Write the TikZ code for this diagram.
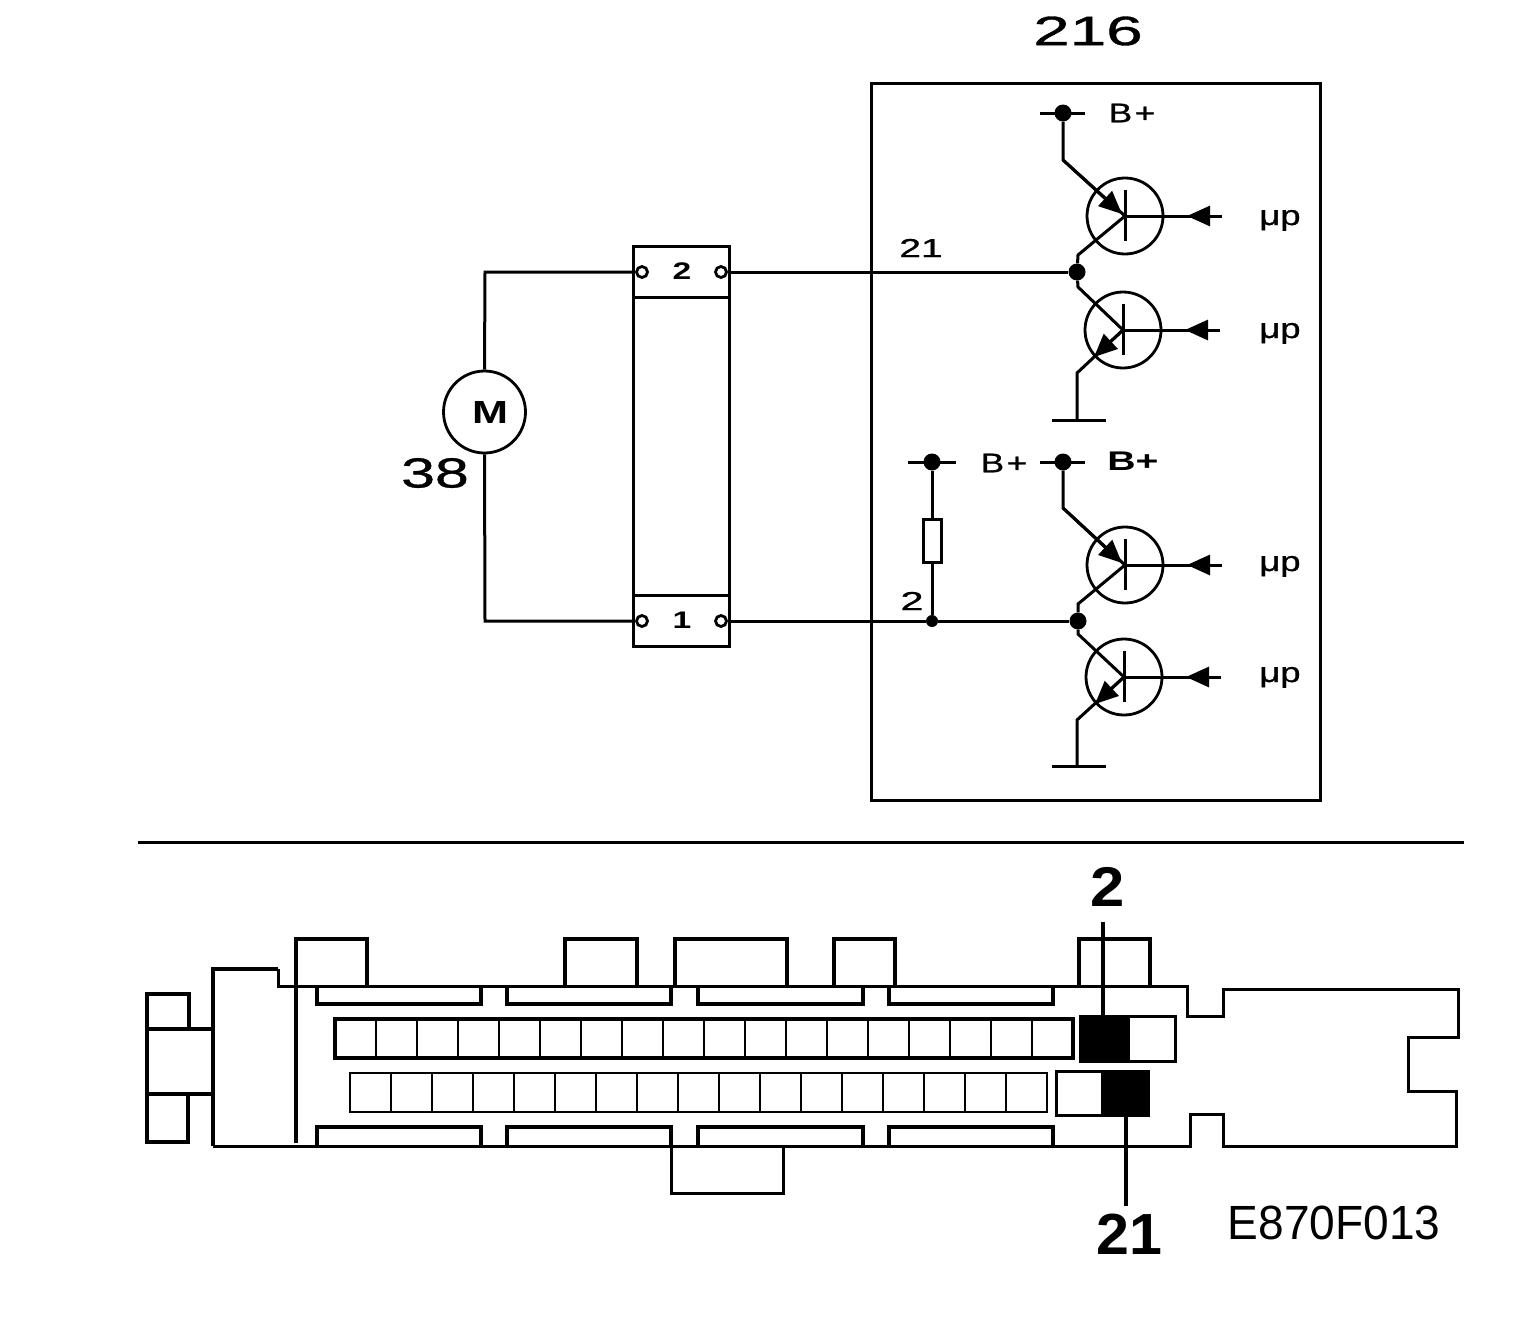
\documentclass[tikz,border=0pt]{standalone}
\usepackage{fontspec}
\setmainfont{Liberation Sans}
\newfontfamily\semib[FakeBold=0.8]{Liberation Sans}
\usetikzlibrary{arrows.meta,calc}
\newcommand{\wtxt}[3]{\fontsize{#2}{#2}\selectfont\scalebox{#1}[1]{#3}}
\tikzset{
  wire/.style={line width=3pt,line join=miter},
  thick wire/.style={line width=3.2pt},
  lab/.style={inner sep=0pt,outer sep=0pt},
  junction/.style={circle,fill=black,inner sep=0pt,minimum size=#1},
  pin/.style={circle,draw,line width=2.8pt,fill=white,inner sep=0pt,minimum size=11pt},
  trans/.style={circle,draw,line width=2.8pt,inner sep=0pt,minimum size=76pt},
  headtip/.style={-{Triangle[length=23pt,width=20pt]}},
  cell/.style={draw,line width=2.8pt,fill=white,minimum width=41pt,inner sep=0pt,outer sep=0pt,anchor=north west},
  bigcell/.style={draw,line width=3pt,inner sep=0pt,outer sep=0pt,anchor=north west},
}
\newcommand{\uppertrans}[4]{%
  \node[trans] (#1) at (#2,#3) {};
  \coordinate (#1c) at (#2,#3);
  \draw[wire] ($(#1c)+(0,-26)$) -- ($(#1c)+(0,25)$);
  \coordinate (#1b) at ($(#1c)+(97,0)$);
  \draw[wire] (#1c) -- (#1b);
  \draw[wire,headtip] (#1b) -- ($(#1c)+(62,0)$);
  \node[lab,anchor=base] at (1280,#4) {\wtxt{1.3}{28}{\semib μp}};
}
\begin{document}
\begin{tikzpicture}[x=1pt,y=-1pt]
\useasboundingbox (0,0) rectangle (1536,1328);
% ---------- unit 216
\node[lab] (l216) at (1088,31) {\wtxt{1.6}{41}{\semib 216}};
\draw[wire] (871,83) rectangle (1320,800);
% ---------- motor
\node[circle,draw,line width=2.8pt,inner sep=0pt,minimum size=82pt] (motor) at (484.5,412) {};
\node[lab] (lM) at (490,412) {\wtxt{1.35}{32}{\textbf{M}}};
\node[lab] (l38) at (435,473) {\wtxt{1.45}{42}{\semib 38}};
% ---------- connector
\draw[wire] (633,246) rectangle (729,646);
\draw[wire] (633,297) -- (729,297);
\draw[wire] (633,595) -- (729,595);
\node[lab] (c2) at (682,271) {\wtxt{1.4}{24}{\textbf{2}}};
\node[lab] (c1) at (682,620) {\wtxt{1.4}{24}{\textbf{1}}};
\node[pin] (p2l) at (642,272) {};
\node[pin] (p2r) at (721,272) {};
\node[pin] (p1l) at (642,621) {};
\node[pin] (p1r) at (721,621) {};
\node[junction=17pt] (j1) at (1077,272) {};
\node[junction=17pt] (j2) at (1078,621) {};
\node[junction=12pt] (j3) at (932,621) {};
\draw[wire] (motor.north) -- (485,272) -- (p2l);
\draw[wire] (motor.south) -- (485,621) -- (p1l);
\draw[wire] (p2r) -- (j1);
\draw[wire] (p1r) -- (j3) -- (j2);
\node[lab] (l21) at (921,248) {\wtxt{1.5}{26}{\semib 21}};
\node[lab] (l2) at (912,601) {\wtxt{1.6}{26}{\semib 2}};
% ---------- upper half bridge
\node[junction=17pt] (bp1) at (1063,113) {};
\draw[wire] (1040,113) -- (1085,113);
\node[lab] at (1132,113) {\wtxt{1.3}{27}{\semib B\kern2pt+}};
\uppertrans{t1}{1125}{216}{225}
\uppertrans{t2}{1123}{330}{338}
\draw[wire] (bp1) -- (1063,160) -- (t1c);
\draw[wire,headtip] (1063,160) -- (1122,214);
\draw[wire] (t1c) -- (1078,255) -- (j1);
\draw[wire] (j1) -- (1078,287) -- (t2c);
\draw[wire] (t2c) -- (1077,373) -- (1077,420);
\draw[wire,headtip] (1123,330) -- (1094,357);
\draw[wire] (1052,420) -- (1106,420);
% ---------- lower half bridge
\node[junction=17pt] (bp2) at (1063,462) {};
\draw[wire] (1040,462) -- (1085,462);
\node[lab] at (1133,461) {\wtxt{1.45}{27}{\textbf{B+}}};
\node[junction=17pt] (bp3) at (932,462) {};
\draw[wire] (908,462) -- (956,462);
\node[lab] at (1004,463) {\wtxt{1.3}{27}{\semib B\kern2pt+}};
\node[draw,line width=3pt,inner sep=0pt,minimum width=18pt,minimum height=43pt] (res) at (932,541) {};
\draw[wire] (bp3) -- (res.north);
\draw[wire] (res.south) -- (j3);
\uppertrans{t3}{1125}{565}{571}
\uppertrans{t4}{1124}{677}{682}
\draw[wire] (bp2) -- (1063,508) -- (t3c);
\draw[wire,headtip] (1063,508) -- (1122,563);
\draw[wire] (t3c) -- (1078,604) -- (j2);
\draw[wire] (j2) -- (1078,634) -- (t4c);
\draw[wire] (t4c) -- (1077,720) -- (1077,766);
\draw[wire,headtip] (1124,677) -- (1095,704);
\draw[wire] (1052,766) -- (1106,766);
% ---------- divider
\draw[wire] (138,842) -- (1464,842);
% ---------- plug outline
\draw[thick wire] (147,1029) -- (147,994) -- (189,994) -- (189,1029);
\draw[thick wire] (147,1094) -- (213,1094);
\draw[thick wire] (188,1094) -- (188,1142) -- (147,1142) -- (147,1029) -- (213,1029);
\draw[thick wire] (213,1146) -- (213,969) -- (278,969);
\draw[wire] (213,1146) -- (1190,1146) -- (1190,1114) -- (1223,1114) -- (1223,1146) -- (1456,1146) -- (1456,1091) -- (1408,1091) -- (1408,1037) -- (1458,1037) -- (1458,989) -- (1223,989) -- (1223,1016) -- (1187,1016) -- (1187,986) -- (278,986) -- (278,969);
\draw[thick wire] (296,1143) -- (296,939) -- (367,939) -- (367,986);
\draw[thick wire] (565,986) -- (565,939) -- (637,939) -- (637,986);
\draw[thick wire] (675,986) -- (675,939) -- (787,939) -- (787,986);
\draw[thick wire] (834,986) -- (834,939) -- (895,939) -- (895,986);
\draw[thick wire] (1079,986) -- (1079,939) -- (1150,939) -- (1150,986);
\foreach \a/\b in {317/481,507/671,698/863,889/1053}{
  \draw[thick wire] (\a,986) -- (\a,1004) -- (\b,1004) -- (\b,986);
  \draw[thick wire] (\a,1146) -- (\a,1127) -- (\b,1127) -- (\b,1146);
}
\draw[wire] (671,1146) -- (671,1193) -- (783,1193) -- (783,1146);
% ---------- cavities
\foreach \i in {0,...,17}{
  \node[cell,minimum height=39pt] (u\i) at ({335+41*\i},1019) {};
}
\foreach \i in {0,...,16}{
  \node[cell,minimum height=39pt] (d\i) at ({350+41*\i},1073) {};
}
\draw[thick wire] (335,1019) rectangle (1073,1058);
\node[bigcell,minimum width=47pt,minimum height=45pt] (pb) at (1128,1016.5) {};
\node[bigcell,fill=black,minimum width=47.5pt,minimum height=45pt] (pa) at (1080.5,1016.5) {};
\node[bigcell,minimum width=45.5pt,minimum height=44pt] (pc) at (1056.5,1071.5) {};
\node[bigcell,fill=black,minimum width=46.5pt,minimum height=44pt] (pd) at (1102,1071.5) {};
% ---------- callouts
\node[lab] (n2) at (1108,887) {\wtxt{1.1}{56}{\textbf{2}}};
\node[lab] (n21) at (1129,1234) {\wtxt{1.02}{58}{\textbf{21}}};
\coordinate (n2e) at (1103,922);
\coordinate (n21e) at (1126,1206);
\draw[thick wire] (n2e) -- (pa.north west -| n2e);
\draw[thick wire] (pd.south west -| n21e) -- (n21e);
\node[lab] (code) at (1334,1223) {\wtxt{0.96}{48}{E870F013}};
\end{tikzpicture}
\end{document}
